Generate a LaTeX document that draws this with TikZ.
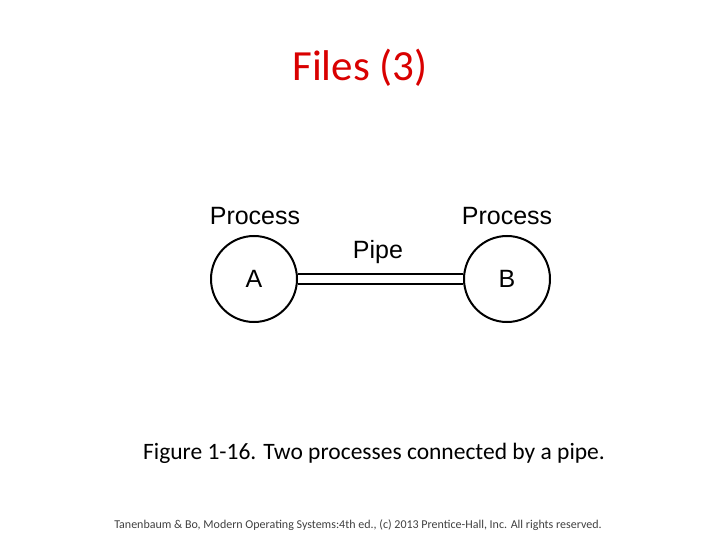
\documentclass[tikz,border=0pt]{standalone}
\usepackage{fontspec}
\setmainfont{Carlito}
\newfontfamily\arialf{Liberation Sans}
\begin{document}
\begin{tikzpicture}[x=1pt,y=-1pt,
  proc/.style={circle,draw,line width=2pt,minimum size=86pt,inner sep=0pt,font=\arialf\fontsize{25}{28}\selectfont},
  lbl/.style={font=\arialf\fontsize{25}{28}\selectfont},
  pipeline/.style={line width=2.2pt}]
\useasboundingbox (0,0) rectangle (720,540);
\node[font=\fontsize{43}{48}\selectfont,text=red!85!black] (title) at (360,68) {Files (3)};
\node[proc] (A) at (254,279) {A};
\node[proc] (B) at (507,279) {B};
\node[lbl] (pa) at (255,216) {Process};
\node[lbl] (pb) at (507,216) {Process};
\node[lbl] (pipe) at (378,252) {Pipe};
\draw[pipeline] ([yshift=5.2pt]A.east) -- ([yshift=5.2pt]B.west);
\draw[pipeline] ([yshift=-5.2pt]A.east) -- ([yshift=-5.2pt]B.west);
\node[font=\fontsize{23.5}{28}\selectfont] (cap) at (374,453) {Figure 1-16. Two processes connected by a pipe.};
\node[font=\fontsize{12}{14}\selectfont,text=black!75] (foot) at (358,525) {Tanenbaum \& Bo, Modern  Operating Systems:4th ed., (c) 2013 Prentice-Hall, Inc. All rights reserved.};
\end{tikzpicture}
\end{document}
